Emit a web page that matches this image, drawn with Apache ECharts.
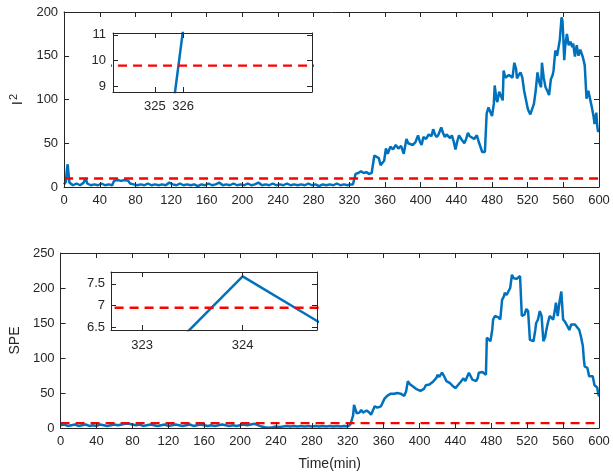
<!DOCTYPE html>
<html><head><meta charset="utf-8">
<script src="https://cdn.jsdelivr.net/npm/echarts@6/dist/echarts.min.js"></script>
<style>html,body{margin:0;padding:0;background:#fff}#c{width:613px;height:475px}</style>
</head><body><div id="c"></div>
<script>
// ---- data ----
const t2Data = [[0,3],[2,6],[3,18],[4,26],[5,15],[6,5],[8,3],[10,2],[14,4],[18,2],[22,5],[24,10],[26,4],[30,2],[34,3],[38,2],[42,4],[46,2],[50,3],[54,2],[56,7],[60,8],[64,7],[68,8],[72,7],[74,4],[78,3],[82,2],[86,3],[90,2],[94,4],[98,2],[102,3],[106,2],[110,3],[114,2],[118,5],[122,3],[126,2],[130,4],[134,2],[138,3],[142,2],[146,3],[150,1],[154,3],[158,2],[162,4],[166,2],[170,3],[174,5],[178,2],[182,3],[186,2],[190,4],[194,2],[198,3],[202,2],[206,4],[210,2],[214,3],[218,5],[222,2],[226,3],[230,2],[234,4],[238,2],[242,3],[246,2],[250,4],[254,2],[258,3],[262,2],[266,3],[270,2],[274,4],[278,2],[282,3],[286,1],[290,3],[294,2],[298,3],[302,2],[306,4],[310,2],[314,3],[318,2],[321,3],[324,3],[325,2.7],[326,11.2],[327,15],[328,17],[330,16],[333,18],[336,16],[339,17],[342,15],[345,16],[348,36],[350,34],[353,33],[355,25],[357,27],[359,30],[361,44],[363,38],[366,46],[369,43],[372,48],[375,44],[378,47],[381,38],[384,55],[386,50],[388,52],[391,48],[394,51],[397,59],[399,52],[401,48],[403,57],[406,55],[409,60],[412,58],[414,66],[416,60],[418,57],[420,60],[423,68],[425,62],[427,57],[429,60],[431,59],[433,56],[435,59],[437,52],[439,43],[441,52],[443,59],[446,54],[449,50],[451,55],[453,62],[455,58],[457,57],[460,55],[463,59],[465,52],[467,46],[469,40],[471,38],[472,40],[474,84],[476,91],[478,86],[480,81],[482,95],[483,116],[485,100],[486,97],[488,109],[490,104],[492,99],[493,133],[495,125],[497,123],[499,128],[501,130],[503,125],[505,142],[507,135],[508,124],[510,128],[512,131],[514,125],[516,110],[518,100],[520,90],[521,87],[523,83],[525,81],[527,95],[529,110],[531,131],[533,120],[535,114],[536,142],[538,125],[540,114],[542,110],[544,105],[546,123],[548,128],[549,133],[551,156],[553,150],[554,151],[556,168],[558,194],[559,190],[560,170],[561,145],[562,160],[564,175],[566,162],[568,166],[570,160],[571,164],[573,149],[575,162],[577,150],[579,157],[580,158],[582,148],[584,139],[586,101],[588,110],[590,109],[592,91],[594,80],[595,72],[597,85],[598,70],[599,63],[600,65]];
const speData = [[0,4],[4,5],[8,3],[12,4],[16,5],[20,3],[24,4],[28,5],[32,3],[36,4],[40,3],[44,5],[48,4],[52,3],[56,4],[60,5],[64,4],[68,5],[72,6],[74,8],[76,6],[80,5],[84,4],[88,5],[92,3],[96,4],[100,5],[104,4],[108,3],[112,4],[116,5],[120,3],[124,4],[128,5],[132,4],[136,3],[140,4],[144,5],[148,3],[152,4],[156,5],[160,4],[164,3],[168,4],[172,3],[176,4],[180,5],[184,4],[188,3],[192,4],[196,3],[200,4],[204,5],[208,4],[212,5],[216,6],[220,4],[224,2],[228,1],[232,0.5],[236,1],[240,2],[244,1.5],[248,2],[252,3],[256,2],[260,3],[264,2],[268,3],[272,2],[276,3],[280,2],[284,3],[288,2],[292,3],[296,2],[300,3],[304,2],[308,3],[312,2],[316,3],[320,2],[322,3],[323,5.35],[324,7.67],[325,6.29],[326,18],[327,33],[328,33],[330,21],[333,22],[335,26],[337,22],[339,21],[341,25],[342,26],[344,22],[346,19],[348,25],[350,31],[353,29],[355,29],[357,31],[359,31],[361,42],[364,46],[366,44],[368,49],[370,47],[372,49],[375,50],[377,48],[379,49],[381,47],[383,46],[385,52],[387,67],[389,63],[390,61],[392,60],[394,58],[396,56],[398,54],[401,53],[403,52],[405,56],[407,61],[409,59],[411,62],[413,64],[415,66],[417,67],[419,72],[420,76],[422,73],[425,79],[427,75],[430,67],[432,66],[434,64],[437,60],[440,57],[442,60],[444,61],[446,66],[449,71],[451,67],[453,73],[455,79],[457,74],[459,69],[461,70],[463,67],[465,72],[466,79],[468,77],[470,80],[472,81],[474,76],[475,129],[477,128],[479,124],[481,140],[482,155],[484,160],[486,162],[488,158],[490,155],[492,183],[494,188],[495,193],[497,190],[499,190],[501,200],[503,219],[505,214],[506,212],[508,213],[510,215],[512,217],[514,160],[516,162],[517,162],[519,170],[521,167],[523,126],[525,128],[527,124],[529,140],[530,150],[532,155],[534,167],[536,160],[538,124],[540,130],[541,138],[543,150],[545,160],[547,158],[549,155],[551,170],[552,179],[554,160],[556,180],[558,195],[560,155],[562,152],[563,150],[565,145],[567,140],[569,148],[571,146],[573,148],[575,145],[577,143],[578,140],[580,130],[582,117],[583,100],[584,88],[586,87],[587,86],[589,74],[591,75],[593,74],[595,61],[597,60],[598,58],[599,50],[600,45]];
const t2Limit = 9.8;
const speLimit = 6.95;
const timeRange = [0, 600];
const t2Inset = {x: [323.52, 330.56], y: [8.77, 11.07], xTicks: [325, 326], yTicks: [9, 10, 11]};
const speInset = {x: [322.69, 324.74], y: [6.44, 7.77], xTicks: [323, 324], yTicks: [6.5, 7, 7.5]};
const yNames = ['I', 'SPE'];
const xName = 'Time(min)';

// ---- chart ----
const AX = '#262626';
const FONT = 'Liberation Sans';
const BLUE = '#0072BD';
const RED = '#FF0000';
const chart = echarts.init(document.getElementById('c'), null, {renderer: 'canvas'});

function box(gi, isX, pos, min, max, interval, ticks, z) {
  const a = {
    type: 'value', gridIndex: gi, position: pos, min: min, max: max,
    axisLine: {show: true, onZero: false, lineStyle: {color: AX, width: 1}},
    axisTick: {show: true, inside: true, length: 5, lineStyle: {color: AX}},
    axisLabel: {show: false},
    splitLine: {show: false}, z: z
  };
  if (interval) a.interval = interval;
  if (ticks) { a.axisTick.customValues = ticks; }
  return a;
}
function main(gi, isX, pos, min, max, interval, ticks, z, labelMargin) {
  const a = box(gi, isX, pos, min, max, interval, ticks, z);
  a.axisLabel = {show: true, color: AX, fontFamily: FONT, fontSize: 13, margin: labelMargin};
  if (ticks) a.axisLabel.customValues = ticks;
  return a;
}

const grids = [
  {left: 58, top: 12, width: 541, height: 175},
  {left: 58, top: 253, width: 541, height: 175},
  {left: 113, top: 33, width: 199, height: 59, show: true, backgroundColor: '#fff', borderWidth: 0, z: 10},
  {left: 111, top: 272, width: 206, height: 58, show: true, backgroundColor: '#fff', borderWidth: 0, z: 10}
];

const xAxes = [
  main(0, true, 'bottom', timeRange[0], timeRange[1], 40, null, 3, 7),
  box(0, true, 'top', timeRange[0], timeRange[1], 40, null, 3),
  Object.assign(main(1, true, 'bottom', timeRange[0], timeRange[1], 40, null, 3, 7), {
    name: xName, nameLocation: 'middle', nameGap: 29,
    nameTextStyle: {color: AX, fontFamily: FONT, fontSize: 14}
  }),
  box(1, true, 'top', timeRange[0], timeRange[1], 40, null, 3),
  main(2, true, 'bottom', t2Inset.x[0], t2Inset.x[1], null, t2Inset.xTicks, 12, 8),
  box(2, true, 'top', t2Inset.x[0], t2Inset.x[1], null, t2Inset.xTicks, 12),
  main(3, true, 'bottom', speInset.x[0], speInset.x[1], null, speInset.xTicks, 12, 9),
  box(3, true, 'top', speInset.x[0], speInset.x[1], null, speInset.xTicks, 12)
];
const yAxes = [
  Object.assign(main(0, false, 'left', 0, 200, 50, null, 3, 6), {
    name: '{a|' + yNames[0] + '}{s|2}', nameLocation: 'middle', nameGap: 33,
    nameTextStyle: {color: AX, fontFamily: FONT, fontSize: 15,
      rich: {a: {fontFamily: FONT, fontSize: 15, color: AX}, s: {fontFamily: FONT, fontSize: 11, color: AX, verticalAlign: 'top', padding: [0, 0, 9, 1]}}}
  }),
  box(0, false, 'right', 0, 200, 50, null, 3),
  Object.assign(main(1, false, 'left', 0, 250, 50, null, 3, 6), {
    name: yNames[1], nameLocation: 'middle', nameGap: 31,
    nameTextStyle: {color: AX, fontFamily: FONT, fontSize: 14}
  }),
  box(1, false, 'right', 0, 250, 50, null, 3),
  main(2, false, 'left', t2Inset.y[0], t2Inset.y[1], null, t2Inset.yTicks, 12, 7),
  box(2, false, 'right', t2Inset.y[0], t2Inset.y[1], null, t2Inset.yTicks, 12),
  main(3, false, 'left', speInset.y[0], speInset.y[1], null, speInset.yTicks, 12, 6),
  box(3, false, 'right', speInset.y[0], speInset.y[1], null, speInset.yTicks, 12)
];

function lineSeries(xi, yi, data, z) {
  return {type: 'line', xAxisIndex: xi, yAxisIndex: yi, data: data, showSymbol: false, symbol: 'none',
    lineStyle: {color: BLUE, width: 2.5}, clip: true, z: z, animation: false};
}
function limSeries(xi, yi, v, z) {
  return {type: 'line', xAxisIndex: xi, yAxisIndex: yi, data: [[timeRange[0], v], [timeRange[1], v]],
    showSymbol: false, symbol: 'none', lineStyle: {color: RED, width: 2.4, type: [9, 6]}, clip: true, z: z, animation: false};
}

chart.setOption({
  animation: false,
  backgroundColor: '#fff',
  grid: grids,
  xAxis: xAxes,
  yAxis: yAxes,
  series: [
    lineSeries(0, 0, t2Data, 2), limSeries(0, 0, t2Limit, 2),
    lineSeries(2, 2, speData, 2), limSeries(2, 2, speLimit, 2),
    lineSeries(4, 4, t2Data, 11), limSeries(4, 4, t2Limit, 11),
    lineSeries(6, 6, speData, 11), limSeries(6, 6, speLimit, 11)
  ]
});
</script></body></html>
